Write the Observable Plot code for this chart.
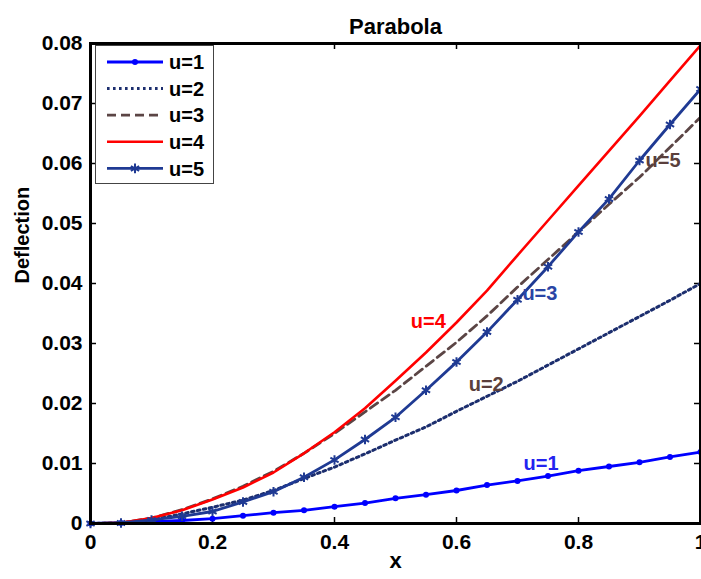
<!DOCTYPE html>
<html><head><meta charset="utf-8">
<script src="https://cdn.jsdelivr.net/npm/d3@7"></script>
<script src="https://cdn.jsdelivr.net/npm/@observablehq/plot@0.6"></script>
<style>
body{margin:0;background:#fff;}
#wrap{position:relative;width:701px;height:579px;overflow:hidden;}
#legend{position:absolute;left:95px;top:45px;}
</style></head><body><div id="wrap"></div>
<script>
const xs = [0,0.05,0.1,0.15,0.2,0.25,0.3,0.35,0.4,0.45,0.5,0.55,0.6,0.65,0.7,0.75,0.8,0.85,0.9,0.95,1];
const u1 = [0,0.0001,0.0003,0.0005,0.0008,0.0013,0.0018,0.0022,0.0028,0.0034,0.0042,0.0048,0.0055,0.0064,0.0071,0.0079,0.0088,0.0095,0.0102,0.0111,0.0119];
const u2 = [0,0.0001,0.0006,0.0016,0.0027,0.0039,0.0055,0.0075,0.0094,0.0116,0.0139,0.0161,0.0187,0.0212,0.0237,0.0264,0.0291,0.0318,0.0345,0.0372,0.0400];
const u3 = [0,0.0001,0.0009,0.0023,0.0041,0.0062,0.0087,0.0117,0.0150,0.0186,0.0222,0.0262,0.0302,0.0346,0.0394,0.0440,0.0486,0.0532,0.0577,0.0627,0.0677];
const u4 = [0,0.0001,0.0009,0.0022,0.0040,0.0060,0.0085,0.0117,0.0152,0.0192,0.0238,0.0285,0.0335,0.0388,0.0447,0.0505,0.0563,0.0621,0.0679,0.0738,0.0797];
const u5 = [0,0.0001,0.0006,0.0012,0.0020,0.0036,0.0053,0.0077,0.0106,0.0140,0.0177,0.0222,0.0269,0.0319,0.0373,0.0428,0.0486,0.0541,0.0605,0.0665,0.0724];

const seriesNames = ["u=1","u=2","u=3","u=4","u=5"];
const seriesValues = [u1,u2,u3,u4,u5];

const labelNames = ["u=4","u=3","u=2","u=1","u=5"];
const labelX = [0.525,0.708,0.62,0.71,0.91];
const labelY = [0.0337,0.0383,0.0232,0.0100,0.0605];
const labelColors = ["#ff0000","#2a45a5","#5a3f3c","#2323f0","#5a3f3c"];

const xTicks = [0,0.2,0.4,0.6,0.8,1];
const yTicks = [0,0.01,0.02,0.03,0.04,0.05,0.06,0.07,0.08];

const styles = [
  {stroke:"#0000ff", strokeWidth:2.8},
  {stroke:"#1c2e6e", strokeWidth:3, strokeDasharray:"2.6,3.4"},
  {stroke:"#5b4545", strokeWidth:2.8, strokeDasharray:"9,5"},
  {stroke:"#ff0000", strokeWidth:2.6},
  {stroke:"#1f3a93", strokeWidth:2.8}
];

const table = seriesNames.map((name, i) => xs.map((x, j) => ({u: name, x, y: seriesValues[i][j]})));
const labels = labelNames.map((t, i) => ({text: t, x: labelX[i], y: labelY[i], color: labelColors[i]}));

const font = "'Liberation Sans', Arial, Helvetica, sans-serif";
const fx = d => d === 0 ? "0" : d === 1 ? "1" : d.toFixed(1);
const fy = d => d === 0 ? "0" : d.toFixed(2);

const plot = Plot.plot({
  width: 701, height: 579,
  marginLeft: 90, marginRight: 1, marginTop: 43, marginBottom: 56,
  style: {fontFamily: font, background: "white", color: "black", overflow: "visible"},
  x: {domain: [0, 1]},
  y: {domain: [0, 0.08]},
  color: {type: "identity"},
  marks: [
    Plot.axisX({ticks: xTicks, tickSize: 0, tickPadding: 11, tickFormat: fx, fontSize: 21, fontWeight: "bold", label: null}),
    Plot.axisY({ticks: yTicks, tickSize: 0, tickPadding: 8, tickFormat: fy, fontSize: 21, fontWeight: "bold", label: null}),
    Plot.tickX(xTicks, {x: d => d, insetTop: 474, stroke: "black", strokeWidth: 1.5}),
    Plot.tickX(xTicks, {x: d => d, insetBottom: 474, stroke: "black", strokeWidth: 1.5}),
    Plot.tickY(yTicks, {y: d => d, insetRight: 604, stroke: "black", strokeWidth: 1.5}),
    Plot.tickY(yTicks, {y: d => d, insetLeft: 604, stroke: "black", strokeWidth: 1.5}),
    ...table.map((rows, i) => Plot.line(rows, {x: "x", y: "y", ...styles[i]})),
    Plot.dot(table[0], {x: "x", y: "y", r: 3, fill: styles[0].stroke}),
    Plot.dot(table[4], {x: "x", y: "y", r: 4.5, symbol: "asterisk", stroke: styles[4].stroke, strokeWidth: 2}),
    Plot.frame({stroke: "black", strokeWidth: 3}),
    Plot.text(labels, {x: "x", y: "y", text: "text", fill: "color", textAnchor: "start", fontSize: 20, fontWeight: "bold"}),
    Plot.text(["Parabola"], {text: d => d, frameAnchor: "top", dy: -25, fontSize: 22, fontWeight: "bold"}),
    Plot.text(["x"], {text: d => d, frameAnchor: "bottom", dy: 44, fontSize: 22, fontWeight: "bold"}),
    Plot.text(["Deflection"], {text: d => d, frameAnchor: "left", dx: -68, rotate: -90, fontSize: 20, fontWeight: "bold"})
  ]
});
const wrap = document.getElementById("wrap");
wrap.appendChild(plot);

// legend
const lw = 119, lh = 139;
const leg = d3.create("svg").attr("id", "legend").attr("width", lw + 1).attr("height", lh + 1)
  .style("font-family", font);
leg.append("rect").attr("x", 0.5).attr("y", 0.5).attr("width", lw - 1).attr("height", lh - 1)
  .attr("fill", "white").attr("stroke", "#444").attr("stroke-width", 1);
seriesNames.forEach((name, i) => {
  const cy = 17 + i * 26.6;
  const s = styles[i];
  leg.append("line").attr("x1", 12).attr("x2", 68).attr("y1", cy).attr("y2", cy)
    .attr("stroke", s.stroke).attr("stroke-width", s.strokeWidth)
    .attr("stroke-dasharray", s.strokeDasharray || null);
  if (i === 0) leg.append("circle").attr("cx", 40).attr("cy", cy).attr("r", 3).attr("fill", s.stroke);
  if (i === 4) leg.append("path").attr("transform", `translate(40,${cy})`)
    .attr("d", d3.symbol(d3.symbolAsterisk, 64)()).attr("stroke", s.stroke).attr("stroke-width", 2).attr("fill", "none");
  leg.append("text").attr("x", 74).attr("y", cy).attr("dy", "0.36em")
    .attr("font-size", 20).attr("font-weight", "bold").attr("fill", "black").text(name);
});
wrap.appendChild(leg.node());
</script></body></html>
